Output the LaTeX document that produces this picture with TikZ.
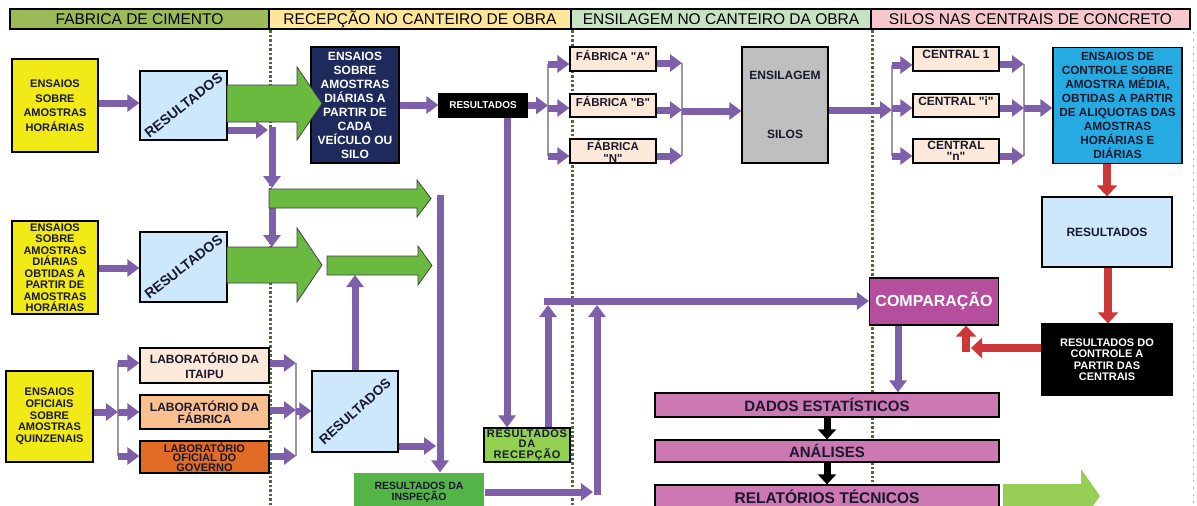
\documentclass[tikz,border=0pt]{standalone}
\usepackage{fontspec}
\setmainfont{Liberation Sans}
\usetikzlibrary{arrows.meta}
\newcommand\fsz[2]{\fontsize{#1}{#2}\selectfont}
\newcommand\qq{\textquotedbl}

\definecolor{hdrA}{RGB}{155,187,89}
\definecolor{hdrB}{RGB}{255,230,153}
\definecolor{hdrC}{RGB}{200,226,196}
\definecolor{hdrD}{RGB}{246,200,206}
\definecolor{dotgreen}{RGB}{85,105,50}
\definecolor{ylw}{RGB}{242,234,22}
\definecolor{resblue}{RGB}{204,232,250}
\definecolor{navy}{RGB}{31,42,92}
\definecolor{peach}{RGB}{253,233,217}
\definecolor{labB}{RGB}{250,191,143}
\definecolor{labC}{RGB}{226,107,38}
\definecolor{recgreen}{RGB}{146,208,80}
\definecolor{insgreen}{RGB}{84,180,72}
\definecolor{silogrey}{RGB}{191,191,191}
\definecolor{ctrlblue}{RGB}{38,170,226}
\definecolor{compmag}{RGB}{182,78,158}
\definecolor{barpink}{RGB}{204,120,178}
\definecolor{arrgreen}{RGB}{106,186,64}
\definecolor{lastgreen}{RGB}{150,206,86}
\definecolor{purp}{RGB}{125,95,170}
\definecolor{redarr}{RGB}{205,55,55}
\definecolor{ink}{RGB}{25,25,45}

\begin{document}
\begin{tikzpicture}[x=1pt,y=-1pt,
  hdr/.style={draw=black, line width=1.2pt, inner sep=0pt, minimum height=20pt,
              font=\fsz{15.5}{16}, text=black},
  box/.style={draw=black, line width=1.3pt, inner sep=0pt, align=center,
              font=\bfseries, text=ink},
  sz/.style 2 args={minimum width=#1, minimum height=#2},
  parr/.style={draw=purp, line width=7pt, -{Triangle[length=12pt,width=17pt]}},
  rarr/.style={draw=redarr, line width=8pt, -{Triangle[length=11pt,width=20pt]}},
  barr/.style={draw=black, line width=7pt, -{Triangle[length=10pt,width=18pt]}},
  brk/.style={draw=black!40, line width=1.3pt},
  garr/.style={fill=arrgreen, draw=black!75, line width=0.8pt},
  sep/.style={draw=dotgreen, line width=3pt, dash pattern=on 2.5pt off 2pt},
  rot/.style={font=\bfseries, text=ink}]

\useasboundingbox (0,0) rectangle (1197,506);
\clip (0,0) rectangle (1197,506);
\fill[white] (0,0) rectangle (1197,506);

% stage separators
\draw[sep] (270,30) -- (270,506);
\draw[sep] (572,30) -- (572,506);
\draw[sep] (872,30) -- (872,482);
\draw[black!30, line width=1pt, dash pattern=on 2pt off 5pt] (1193,32) -- (1193,506);

% stage headers
\node[hdr, fill=hdrA, minimum width=259pt] (hA) at (139.5,19) {FABRICA DE CIMENTO};
\node[hdr, fill=hdrB, minimum width=302pt] (hB) at (420,19) {RECEPÇÃO NO CANTEIRO DE OBRA};
\node[hdr, fill=hdrC, minimum width=300pt] (hC) at (721,19) {ENSILAGEM NO CANTEIRO DA OBRA};
\node[hdr, fill=hdrD, minimum width=319pt] (hD) at (1030.5,19) {SILOS NAS CENTRAIS DE CONCRETO};

% cement factory
\node[box, fill=ylw, sz={86pt}{93pt}, font=\bfseries\fsz{11}{14.5}] (y1) at (55,105.5)
  {ENSAIOS\\SOBRE\\AMOSTRAS\\HORÁRIAS};
\node[box, fill=resblue, sz={87pt}{69pt}] (res1) at (183.5,105.5) {};
\node[rot, rotate=38, font=\bfseries\fsz{14}{14}] (res1t) at (res1.center) {RESULTADOS};

\node[box, fill=ylw, sz={86pt}{93pt}, font=\bfseries\fsz{11}{11.5}] (y2) at (55,267.5)
  {ENSAIOS\\SOBRE\\AMOSTRAS\\DIÁRIAS\\OBTIDAS A\\PARTIR DE\\AMOSTRAS\\HORÁRIAS};
\node[box, fill=resblue, sz={87pt}{70pt}] (res2) at (183.5,267) {};
\node[rot, rotate=38, font=\bfseries\fsz{14}{14}] (res2t) at (res2.center) {RESULTADOS};

\node[box, fill=ylw, sz={87pt}{91pt}, font=\bfseries\fsz{11}{11.7}] (y3) at (49.5,416.5)
  {ENSAIOS\\OFICIAIS\\SOBRE\\AMOSTRAS\\QUINZENAIS};
\node[box, fill=peach, sz={129pt}{35pt}, font=\bfseries\fsz{12}{15}] (labA) at (204.5,365.5)
  {LABORATÓRIO DA\\ITAIPU};
\node[box, fill=labB, sz={129pt}{34pt}, font=\bfseries\fsz{12}{10.5}] (labB) at (204.5,412)
  {LABORATÓRIO DA\\FÁBRICA};
\node[box, fill=labC, sz={129pt}{32pt}, font=\bfseries\fsz{11}{9.8}] (labC) at (204.5,457)
  {LABORATÓRIO\\OFICIAL DO\\GOVERNO};

% reception on site
\node[box, fill=navy, text=white, sz={88pt}{116pt}, font=\bfseries\fsz{12}{14}] (navy) at (355,105)
  {ENSAIOS\\SOBRE\\AMOSTRAS\\DIÁRIAS A\\PARTIR DE\\CADA\\VEÍCULO OU\\SILO};
\node[box, fill=black, text=white, sz={88pt}{23pt}, font=\bfseries\fsz{10}{10}] (resblk) at (483,105.5)
  {RESULTADOS};
\node[box, fill=resblue, sz={86pt}{81pt}] (res3) at (355,411.5) {};
\node[rot, rotate=42, font=\bfseries\fsz{13.5}{14}] (res3t) at (res3.center) {RESULTADOS};
\node[box, fill=recgreen, sz={86pt}{34pt}, font=\bfseries\fsz{11}{10.5}\addfontfeatures{LetterSpace=6}] (rec) at (527,445)
  {RESULTADOS\\DA\\RECEPÇÃO};
\node[box, draw=none, fill=insgreen, sz={130pt}{39pt}, font=\bfseries\fsz{10.5}{11.5}] (insp) at (419,492.5)
  {RESULTADOS DA\\INSPEÇÃO};

% silos on site
\node[box, fill=peach, sz={86pt}{24pt}, text depth=8pt, font=\bfseries\fsz{11.5}{12}] (fabA) at (613,59)
  {FÁBRICA \qq A\qq};
\node[box, fill=peach, sz={86pt}{23pt}, text depth=9pt, font=\bfseries\fsz{11.5}{12}] (fabB) at (613,105.5)
  {FÁBRICA \qq B\qq};
\node[box, fill=peach, sz={86pt}{24pt}, font=\bfseries\fsz{11.5}{12}] (fabN) at (613,151)
  {FÁBRICA\\\qq N\qq};
\node[box, fill=silogrey, sz={86pt}{116pt}, font=\bfseries\fsz{12}{14}] (silo) at (785,105)
  {ENSILAGEM\\[45pt]SILOS};

% silos at the concrete plants
\node[box, fill=peach, sz={86pt}{24pt}, text depth=10pt, font=\bfseries\fsz{12}{12}] (cen1) at (956,59)
  {CENTRAL 1};
\node[box, fill=peach, sz={86pt}{23pt}, text depth=9pt, font=\bfseries\fsz{12}{12}] (ceni) at (956,105.5)
  {CENTRAL \qq i\qq};
\node[box, fill=peach, sz={86pt}{24pt}, font=\bfseries\fsz{12}{11.5}] (cenn) at (956,151)
  {CENTRAL\\\qq n\qq};
\node[box, fill=ctrlblue, sz={129pt}{116pt}, font=\bfseries\fsz{11.8}{14.1}] (ctrl) at (1117.5,105.5)
  {ENSAIOS DE\\CONTROLE SOBRE\\AMOSTRA MÉDIA,\\OBTIDAS A PARTIR\\DE ALIQUOTAS DAS\\AMOSTRAS\\HORÁRIAS E\\DIÁRIAS};
\node[box, fill=resblue, sz={130pt}{70pt}, font=\bfseries\fsz{12}{12}] (resR) at (1107,232) {RESULTADOS};
\node[box, fill=black, text=white, sz={130pt}{71pt}, font=\bfseries\fsz{11}{11.5}] (ctrlres) at (1107,359.5)
  {RESULTADOS DO\\CONTROLE A\\PARTIR DAS\\CENTRAIS};
\node[box, fill=compmag, text=white, sz={129pt}{47pt}, font=\bfseries\fsz{16}{16}] (comp) at (934,301.5)
  {COMPARAÇÃO};
\node[box, fill=barpink, sz={344pt}{24pt}, font=\bfseries\fsz{15}{15}] (dados) at (827,405)
  {DADOS ESTATÍSTICOS};
\node[box, fill=barpink, sz={344pt}{22pt}, font=\bfseries\fsz{15}{15}] (anal) at (827,451)
  {ANÁLISES};
\node[box, fill=barpink, sz={344pt}{24pt}, font=\bfseries\fsz{15.5}{15.5}] (relat) at (827,497)
  {RELATÓRIOS TÉCNICOS};

% ---- connectors: factory column
\draw[parr] (y1.east |- 0,103) -- (res1.west |- 0,103);
\coordinate (j1) at (268,130);
\draw[parr] (res1.east |- j1) -- (j1);
\coordinate (v1a) at (272,127);
\coordinate (v1b) at (272,188);
\draw[parr] (v1a) -- (v1b);
\coordinate (v2a) at (272,208);
\coordinate (v2b) at (272,247);
\draw[parr] (v2a) -- (v2b);
\draw[parr] (y2.east |- 0,268) -- (res2.west |- 0,268);

\coordinate (qa) at (118,363);
\coordinate (qb) at (118,456);
\draw[brk] (qa) -- (qb);
\draw[parr] (y3.east |- 0,412) -- (qa |- 0,412);
\draw[parr] (qa) -- (labA.west |- qa);
\draw[parr] (qa |- 0,412) -- (labB.west |- 0,412);
\draw[parr] (qb) -- (labC.west |- qb);

\coordinate (qc) at (296,363);
\coordinate (qd) at (296,456);
\draw[brk] (qc) -- (qd);
\draw[parr] (labA.east |- qc) -- (qc);
\draw[parr] (labB.east |- 0,410) -- (qc |- 0,410);
\draw[parr] (labC.east |- qd) -- (qd);
\draw[parr] (qc |- 0,411) -- (res3.west |- 0,411);

% ---- connectors: reception
\coordinate (r3top) at (355,275);
\draw[parr] (res3.north) -- (r3top);
\coordinate (lv) at (440,195);
\draw[parr] (lv) -- (lv |- insp.north);
\coordinate (lvin) at (436,446);
\draw[parr] (res3.east |- lvin) -- (lvin);

\draw[parr] (navy.east |- 0,105) -- (resblk.west |- 0,105);
\draw[parr] (resblk.south -| 507,0) -- (rec.north -| 507,0);

\coordinate (ib) at (593,492);
\draw[parr] (insp.east |- ib) -- (ib);
\coordinate (ua) at (597,495);
\coordinate (ub) at (597,305);
\draw[parr] (ua) -- (ub);
\coordinate (uc) at (548,305);
\draw[parr] (rec.north -| uc) -- (uc);
\coordinate (hl) at (544,301);
\draw[parr] (hl) -- (comp.west |- hl);

% ---- connectors: silos on site
\coordinate (fa) at (548,64);
\coordinate (fb) at (548,156);
\draw[parr] (resblk.east) -- (fa |- resblk.east);
\draw[brk] (fa) -- (fb);
\draw[parr] (fa) -- (fabA.west |- fa);
\draw[parr] (fa |- 0,108) -- (fabB.west |- 0,108);
\draw[parr] (fb) -- (fabN.west |- fb);

\coordinate (fc) at (682,63);
\coordinate (fd) at (682,156);
\draw[brk] (fc) -- (fd);
\draw[parr] (fabA.east |- fc) -- (fc);
\draw[parr] (fabB.east |- 0,110) -- (fc |- 0,110);
\draw[parr] (fabN.east |- fd) -- (fd);
\draw[parr] (fc |- 0,111) -- (silo.west |- 0,111);

% ---- connectors: concrete plants
\coordinate (ca) at (892,65);
\coordinate (cb) at (892,156);
\draw[parr] (silo.east |- 0,110) -- (ca |- 0,110);
\draw[brk] (ca) -- (cb);
\draw[parr] (ca) -- (cen1.west |- ca);
\draw[parr] (ca |- 0,108) -- (ceni.west |- 0,108);
\draw[parr] (cb) -- (cenn.west |- cb);

\coordinate (cc) at (1024,64);
\coordinate (cd) at (1024,156);
\draw[brk] (cc) -- (cd);
\draw[parr] (cen1.east |- cc) -- (cc);
\draw[parr] (ceni.east |- 0,108) -- (cc |- 0,108);
\draw[parr] (cenn.east |- cd) -- (cd);
\draw[parr] (cc |- 0,108) -- (ctrl.west |- 0,108);

\draw[rarr] (ctrl.south -| 1107,0) -- (resR.north -| 1107,0);
\draw[rarr] (resR.south -| 1108,0) -- (ctrlres.north -| 1108,0);
\coordinate (rl) at (971,348);
\draw[rarr] (ctrlres.west |- rl) -- (rl);
\coordinate (ru) at (966,352);
\draw[rarr] (ru) -- (comp.south -| ru);

\draw[parr] (comp.south -| 898,0) -- (dados.north -| 898,0);
\draw[barr] (dados.south) -- (anal.north);
\draw[barr] (anal.south) -- (relat.north);

% ---- broad green flow arrows
\filldraw[garr] (227,85) -- (297,85) -- (297,67) -- (322,103.5) -- (297,140) -- (297,122) -- (227,122) -- cycle;
\filldraw[garr] (269,189) -- (417,189) -- (417,180) -- (431,198.5) -- (417,217) -- (417,208) -- (269,208) -- cycle;
\filldraw[garr] (227,247) -- (297,247) -- (297,228) -- (322,265) -- (297,302) -- (297,283) -- (227,283) -- cycle;
\filldraw[garr] (327,256) -- (418,256) -- (418,246) -- (432,265.5) -- (418,285) -- (418,275) -- (327,275) -- cycle;
\fill[lastgreen] (1003,484) -- (1081,484) -- (1081,469) -- (1100,496) -- (1081,523) -- (1081,508) -- (1003,508) -- cycle;
\end{tikzpicture}
\end{document}
